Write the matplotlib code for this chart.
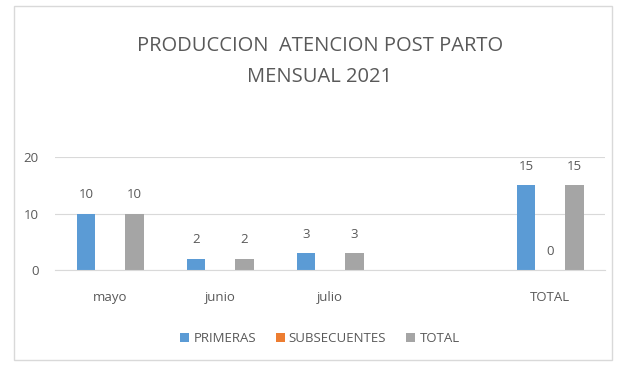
import matplotlib.pyplot as plt
import matplotlib.patches as patches
import numpy as np

# datos del grafico
categorias = ['mayo', 'junio', 'julio', '', 'TOTAL']
primeras = [10, 2, 3, np.nan, 15]
subsecuentes = [np.nan, np.nan, np.nan, np.nan, 0]
total = [10, 2, 3, np.nan, 15]
series = ['PRIMERAS', 'SUBSECUENTES', 'TOTAL']
colores = ['#5B9BD5', '#ED7D31', '#A5A5A5']

plt.rcParams['font.family'] = ['Open Sans', 'DejaVu Sans']
gris = '#595959'

fig = plt.figure(figsize=(6.27, 3.66), dpi=100)
fig.patches.append(patches.Rectangle((14 / 627, 6 / 366), 598 / 627, 354 / 366,
                                     transform=fig.transFigure, fill=False,
                                     edgecolor='#D9D9D9', linewidth=1))
ax = fig.add_axes([0.088, 0.262, 0.877, 0.309])

x = np.arange(len(categorias))
ancho = 0.17
desp = 0.22
for i, (vals, nombre, col) in enumerate(zip([primeras, subsecuentes, total], series, colores)):
    pos = x + (i - 1) * desp
    ax.bar(pos, vals, width=ancho, color=col, label=nombre)
    for p, v in zip(pos, vals):
        if not np.isnan(v):
            ax.text(p, v + 2.2, f'{v:g}', ha='center', va='bottom', fontsize=9.5, color=gris)

ax.set_xlim(-0.5, len(categorias) - 0.5)
ax.set_ylim(0, 20)
ax.set_yticks([0, 10, 20])
ax.grid(axis='y', color='#D9D9D9', linewidth=0.8)
ax.set_axisbelow(True)
for s in ax.spines.values():
    s.set_visible(False)
ax.spines['bottom'].set_visible(True)
ax.spines['bottom'].set_color('#D9D9D9')
ax.tick_params(length=0, colors=gris, labelsize=9.5)
ax.tick_params(axis='y', pad=12)
ax.tick_params(axis='x', pad=15)
ax.set_xticks(x)
ax.set_xticklabels(categorias)

fig.text(0.51, 0.875, 'PRODUCCION  ATENCION POST PARTO', ha='center', va='center',
         fontsize=14.5, color=gris)
fig.text(0.51, 0.79, 'MENSUAL 2021', ha='center', va='center', fontsize=14.5, color=gris)

fig.legend(loc='center', bbox_to_anchor=(0.51, 0.075), ncol=3, frameon=False,
           fontsize=9.5, labelcolor=gris, handlelength=0.7, handleheight=0.7,
           handletextpad=0.3, columnspacing=1.5)

plt.savefig('out.png', dpi=100)
